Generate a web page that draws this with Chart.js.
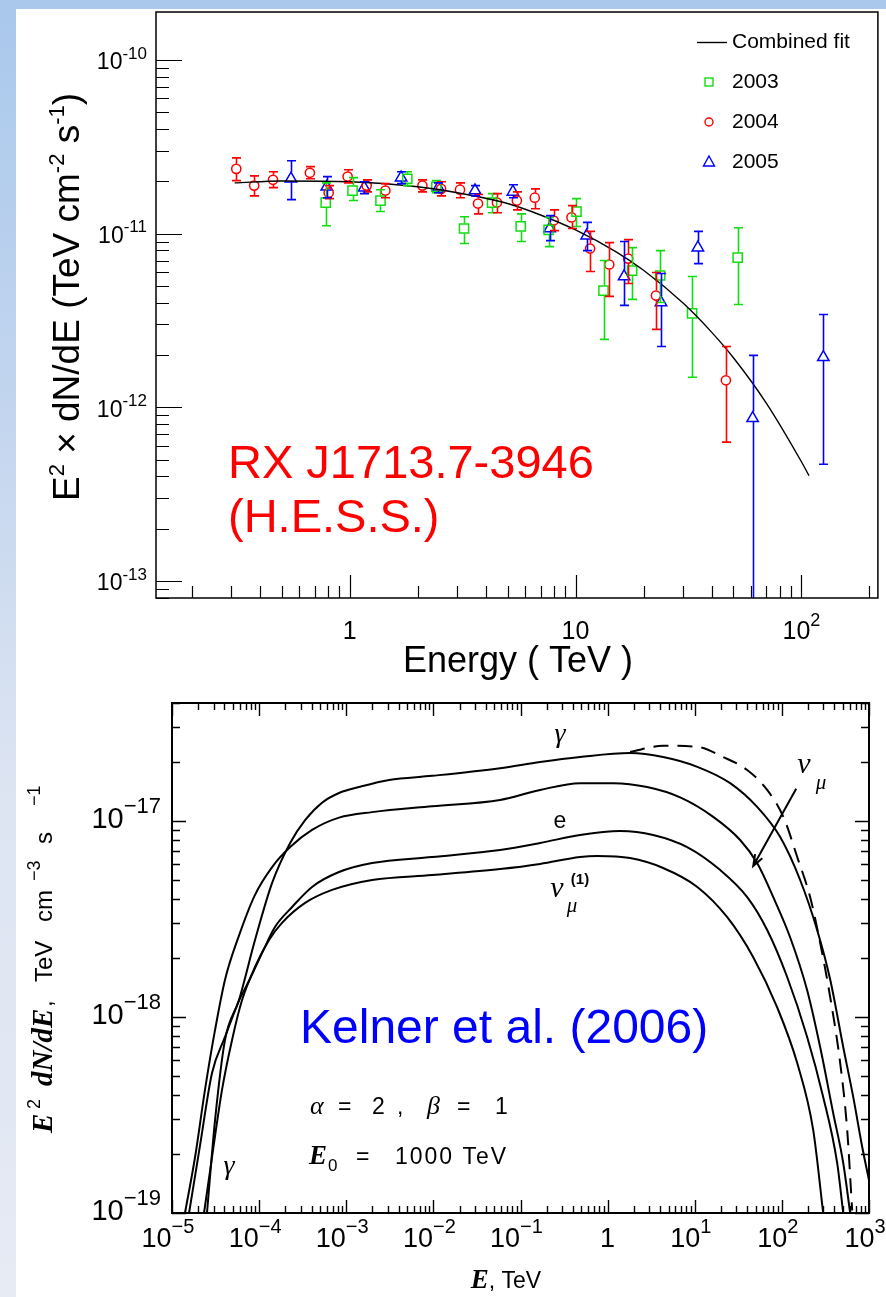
<!DOCTYPE html>
<html>
<head>
<meta charset="utf-8">
<title>RX J1713.7-3946 / Kelner et al. (2006)</title>
<script src="https://cdn.jsdelivr.net/npm/chart.js@4.4.1/dist/chart.umd.min.js"></script>
<style>
  html, body { margin: 0; padding: 0; background: #fff; }
  body { position: relative; width: 886px; height: 1297px; overflow: hidden; }
  #bandTop { position: absolute; left: 0; top: 0; width: 886px; height: 9px; background: #a9c8ec; }
  #bandLeft { position: absolute; left: 0; top: 0; width: 16px; height: 1297px;
    background: linear-gradient(to bottom, #a9c8ec 0%, #c6d7ef 35%, #dce4f2 60%, #e6ebf4 100%); }
  canvas { position: absolute; left: 0; }
  #hess { top: 0; }
  #kelner { top: 690px; }
</style>
</head>
<body>
<div id="bandTop"></div>
<div id="bandLeft"></div>
<canvas id="hess" width="886" height="690"></canvas>
<canvas id="kelner" width="886" height="607"></canvas>
<script>
const SANS = '"Liberation Sans", Arial, sans-serif';
const SERIF = '"Liberation Serif", "DejaVu Serif", serif';

// ---------- top panel: H.E.S.S. data, E in TeV, E^2 dN/dE in TeV cm^-2 s^-1 ----------
const fitE = [0.31, 0.5, 1, 2, 3, 5, 7, 10, 15, 20, 30, 40, 50, 70, 100, 108];
const fitF = [1.96e-11, 2.01e-11, 1.99e-11, 1.86e-11, 1.72e-11, 1.49e-11, 1.28e-11, 1.05e-11,
  7.9e-12, 6.15e-12, 3.97e-12, 2.71e-12, 1.93e-12, 1.055e-12, 4.86e-13, 4.04e-13];

const e2003 = [0.784, 1.03, 1.37, 1.80, 2.42, 3.21, 4.27, 5.72, 7.60, 10.1, 13.3, 17.8, 23.7, 32.8, 52.2];
const f2003 = [1.51e-11, 1.77e-11, 1.55e-11, 2.07e-11, 1.86e-11, 1.07e-11, 1.51e-11, 1.10e-11, 1.05e-11,
  1.34e-11, 4.70e-12, 6.13e-12, 5.74e-12, 3.47e-12, 7.28e-12];
const hi2003 = [1.96e-11, 2.10e-11, 1.79e-11, 2.27e-11, 2.02e-11, 1.25e-11, 1.70e-11, 1.30e-11, 1.24e-11,
  1.59e-11, 7.0e-12, 8.31e-12, 7.98e-12, 5.66e-12, 1.08e-11];
const lo2003 = [1.11e-11, 1.55e-11, 1.34e-11, 1.89e-11, 1.72e-11, 8.77e-12, 1.32e-11, 9.0e-12, 8.42e-12,
  1.10e-11, 2.46e-12, 4.18e-12, 4.01e-12, 1.49e-12, 3.91e-12];

const e2004 = [0.315, 0.378, 0.458, 0.667, 0.808, 0.98, 1.19, 1.44, 2.10, 2.54, 3.08, 3.70, 4.49, 5.50,
  6.60, 8.00, 9.60, 11.6, 14.1, 17.1, 22.7, 46.3];
const f2004 = [2.36e-11, 1.89e-11, 2.04e-11, 2.24e-11, 1.72e-11, 2.13e-11, 1.89e-11, 1.77e-11, 1.89e-11,
  1.81e-11, 1.79e-11, 1.49e-11, 1.51e-11, 1.55e-11, 1.61e-11, 1.19e-11, 1.24e-11, 8.2e-12, 6.64e-12,
  7.18e-12, 4.40e-12, 1.43e-12];
const hi2004 = [2.73e-11, 2.15e-11, 2.27e-11, 2.43e-11, 1.89e-11, 2.33e-11, 2.04e-11, 1.94e-11, 2.04e-11,
  1.99e-11, 1.96e-11, 1.68e-11, 1.70e-11, 1.74e-11, 1.81e-11, 1.37e-11, 1.45e-11, 1.03e-11, 8.88e-12,
  9.24e-12, 5.97e-12, 2.24e-12];
const lo2004 = [2.02e-11, 1.65e-11, 1.84e-11, 2.07e-11, 1.59e-11, 1.96e-11, 1.74e-11, 1.61e-11, 1.74e-11,
  1.65e-11, 1.61e-11, 1.30e-11, 1.32e-11, 1.37e-11, 1.39e-11, 1.04e-11, 1.07e-11, 6.05e-12, 4.35e-12,
  5.16e-12, 2.81e-12, 6.3e-13];

const e2005 = [0.550, 0.792, 1.16, 1.69, 2.47, 3.59, 5.28, 7.68, 11.2, 16.4, 23.9, 34.8, 60.8, 125];
const f2005 = [2.07e-11, 1.86e-11, 1.84e-11, 2.10e-11, 1.84e-11, 1.77e-11, 1.74e-11, 1.07e-11, 9.74e-12,
  5.66e-12, 4.01e-12, 8.31e-12, 8.65e-13, 1.94e-12];
const hi2005 = [2.63e-11, 2.13e-11, 1.99e-11, 2.27e-11, 1.96e-11, 1.89e-11, 1.91e-11, 1.27e-11, 1.16e-11,
  9.0e-12, 5.89e-12, 1.03e-11, 1.99e-12, 3.42e-12];
const lo2005 = [1.57e-11, 1.61e-11, 1.70e-11, 1.94e-11, 1.72e-11, 1.65e-11, 1.61e-11, 9.11e-12, 7.98e-12,
  3.86e-12, 2.24e-12, 6.72e-12, 3.0e-14, 4.7e-13];

const hessXTicks = [[1, '1', ''], [10, '10', ''], [100, '10', '2']];
const hessYTicks = [[1e-10, '10', '-10'], [1e-11, '10', '-11'], [1e-12, '10', '-12'], [1e-13, '10', '-13']];

// ---------- bottom panel: Kelner et al. spectra, E in TeV ----------
const gamE = [2.52e-5, 3.12e-5, 4.06e-5, 5.87e-5, 8.97e-5, 1.41e-4, 2.27e-4, 3.37e-4, 5.27e-4, 8.26e-4,
  1.40e-3, 3.10e-3, 9.66e-3, 0.0583, 0.168, 0.483, 1.81, 4.33, 10.7, 25.5, 52.0, 95.7, 162, 254, 359,
  506, 659, 836, 1000];
const gamF = [1.0e-19, 2.98e-19, 7.64e-19, 1.22e-18, 2.47e-18, 4.83e-18, 7.72e-18, 1.01e-17, 1.24e-17,
  1.39e-17, 1.49e-17, 1.62e-17, 1.70e-17, 1.86e-17, 2.0e-17, 2.12e-17, 2.22e-17, 2.12e-17, 1.89e-17,
  1.56e-17, 1.18e-17, 8.28e-18, 5.0e-18, 2.78e-18, 1.55e-18, 7.03e-19, 3.91e-19, 2.17e-19, 1.47e-19];

const numuE = [1.41e-5, 1.84e-5, 2.39e-5, 3.12e-5, 4.06e-5, 5.87e-5, 8.97e-5, 1.41e-4, 2.27e-4, 4.05e-4,
  8.26e-4, 1.98e-3, 9.66e-3, 0.0583, 0.168, 0.483, 1.16, 2.84, 6.80, 16.3, 33.2, 52.0, 79.4, 124, 195,
  275, 388, 506, 608];
const numuF = [1.0e-19, 1.93e-19, 4.25e-19, 8.59e-19, 1.55e-18, 2.60e-18, 4.20e-18, 5.82e-18, 7.36e-18,
  9.0e-18, 1.04e-17, 1.11e-17, 1.19e-17, 1.28e-17, 1.44e-17, 1.56e-17, 1.56e-17, 1.49e-17, 1.32e-17,
  1.05e-17, 8.0e-18, 6.1e-18, 4.10e-18, 2.56e-18, 1.37e-18, 7.03e-19, 3.24e-19, 1.80e-19, 1.0e-19];

const eleE = [1.57e-5, 2.10e-5, 2.88e-5, 4.06e-5, 5.87e-5, 7.66e-5, 1.08e-4, 1.52e-4, 2.39e-4, 4.05e-4,
  8.26e-4, 1.98e-3, 9.66e-3, 0.0583, 0.168, 0.483, 1.39, 3.33, 8.18, 19.6, 40.0, 67.8, 115, 195, 298,
  431, 506];
const eleF = [1.0e-19, 2.22e-19, 5.18e-19, 7.91e-19, 1.21e-18, 1.53e-18, 2.12e-18, 2.88e-18, 3.64e-18,
  4.61e-18, 5.49e-18, 6.10e-18, 6.55e-18, 7.11e-18, 7.72e-18, 8.49e-18, 8.89e-18, 8.49e-18, 7.36e-18,
  5.62e-18, 4.09e-18, 2.78e-18, 1.60e-18, 7.91e-19, 3.91e-19, 1.80e-19, 1.0e-19];

const numu1E = [2.33e-5, 2.88e-5, 3.75e-5, 4.89e-5, 6.37e-5, 8.97e-5, 1.30e-4, 1.83e-4, 3.37e-4, 6.87e-4,
  1.98e-3, 9.66e-3, 0.0583, 0.168, 0.483, 0.757, 1.81, 4.33, 10.7, 23.6, 46.9, 88.3, 150, 229, 298];
const numu1F = [1.0e-19, 1.93e-19, 4.25e-19, 7.64e-19, 1.22e-18, 1.80e-18, 2.47e-18, 3.02e-18, 3.82e-18,
  4.45e-18, 5.00e-18, 5.30e-18, 5.69e-18, 6.04e-18, 6.55e-18, 6.63e-18, 6.47e-18, 5.76e-18, 4.61e-18,
  3.23e-18, 2.02e-18, 1.12e-18, 5.82e-19, 2.65e-19, 1.0e-19];

const dashE = [1.81, 4.33, 10.7, 21.2, 40.0, 67.8, 104, 150, 211, 275, 359, 467, 562, 641];
const dashF = [2.25e-17, 2.42e-17, 2.39e-17, 2.12e-17, 1.82e-17, 1.44e-17, 1.05e-17, 6.55e-18, 4.09e-18,
  2.39e-18, 1.26e-18, 5.82e-19, 2.65e-19, 1.03e-19];

// arrow from the nu_mu label to its curve (data coordinates)
const arrowFrom = [146, 1.46e-17];
const arrowTo = [46.9, 5.89e-18];

const kelXTicks = [[1e-5, '10', '\u22125'], [1e-4, '10', '\u22124'], [1e-3, '10', '\u22123'], [1e-2, '10', '\u22122'],
  [1e-1, '10', '\u22121'], [1, '1', ''], [10, '10', '1'], [100, '10', '2'], [1000, '10', '3']];
const kelYTicks = [[1e-17, '10', '\u221217'], [1e-18, '10', '\u221218'], [1e-19, '10', '\u221219']];

function pts(xs, ys) {
  return xs.map(function(x, i) { return { x: x, y: ys[i] }; });
}

// draws a run of [text, font, raise] pieces in one line
function richText(ctx, parts, x, y, align) {
  let w = 0;
  parts.forEach(function(p) { ctx.font = p[1]; p.w = ctx.measureText(p[0]).width; w += p.w; });
  let cx = align === 'right' ? x - w : align === 'center' ? x - w / 2 : x;
  ctx.textAlign = 'left';
  parts.forEach(function(p) {
    ctx.font = p[1];
    ctx.fillText(p[0], cx, y - (p[2] || 0));
    cx += p.w;
  });
}

// inward log ticks, major at decades
function logTicks(ctx, scale, a, side, major, minor) {
  const lo = Math.floor(Math.log10(scale.min)), hi = Math.ceil(Math.log10(scale.max));
  ctx.beginPath();
  for (let d = lo; d <= hi; d++) {
    for (let m = 1; m <= 9; m++) {
      const v = m * Math.pow(10, d);
      if (v < scale.min * 0.999 || v > scale.max * 1.001) continue;
      const p = Math.round(scale.getPixelForValue(v)) + 0.5;
      const len = m === 1 ? major : minor;
      if (side === 'bottom') { ctx.moveTo(p, a.bottom); ctx.lineTo(p, a.bottom - len); }
      if (side === 'top') { ctx.moveTo(p, a.top); ctx.lineTo(p, a.top + len); }
      if (side === 'left') { ctx.moveTo(a.left, p); ctx.lineTo(a.left + len, p); }
      if (side === 'right') { ctx.moveTo(a.right, p); ctx.lineTo(a.right - len, p); }
    }
  }
  ctx.stroke();
}

const errorBars = {
  id: 'errorBars',
  afterDatasetsDraw(chart) {
    const { ctx, chartArea: a, scales: { x, y } } = chart;
    ctx.save();
    ctx.beginPath();
    ctx.rect(a.left, a.top, a.right - a.left, a.bottom - a.top);
    ctx.clip();
    chart.data.datasets.forEach(function(ds) {
      if (!ds.errHi) return;
      ctx.strokeStyle = ds.borderColor;
      ctx.lineWidth = 1.6;
      ds.data.forEach(function(p, i) {
        const px = Math.round(x.getPixelForValue(p.x)) + 0.5;
        const py = y.getPixelForValue(p.y);
        const ph = y.getPixelForValue(ds.errHi[i]);
        const pl = y.getPixelForValue(ds.errLo[i]);
        ctx.beginPath();
        if (ph < py - ds.gapTop) { ctx.moveTo(px, ph); ctx.lineTo(px, py - ds.gapTop); }
        if (pl > py + ds.gapBottom) { ctx.moveTo(px, py + ds.gapBottom); ctx.lineTo(px, pl); }
        ctx.moveTo(px - 4.5, ph); ctx.lineTo(px + 4.5, ph);
        ctx.moveTo(px - 4.5, pl); ctx.lineTo(px + 4.5, pl);
        ctx.stroke();
      });
    });
    ctx.restore();
  }
};

const hessDecor = {
  id: 'hessDecor',
  afterDraw(chart) {
    const { ctx, chartArea: a, scales: { x, y } } = chart;
    ctx.save();
    ctx.strokeStyle = '#000';
    ctx.lineWidth = 1.5;
    ctx.strokeRect(a.left, a.top, a.right - a.left, a.bottom - a.top);
    ctx.lineWidth = 1.2;
    logTicks(ctx, x, a, 'bottom', 23, 12);
    logTicks(ctx, y, a, 'left', 26, 13);

    ctx.fillStyle = '#000';
    ctx.textBaseline = 'middle';
    hessYTicks.forEach(function(t) {
      richText(ctx, [[t[1], '23px ' + SANS, 0], [t[2], '17px ' + SANS, 9]], a.left - 9, y.getPixelForValue(t[0]) + 3, 'right');
    });
    hessXTicks.forEach(function(t) {
      richText(ctx, [[t[1], '25px ' + SANS, 0], [t[2], '18px ' + SANS, 11]], x.getPixelForValue(t[0]), a.bottom + 34, 'center');
    });

    // axis titles
    ctx.textBaseline = 'alphabetic';
    richText(ctx, [['Energy ( TeV )', '36px ' + SANS, 0]], 518, 672, 'center');
    ctx.save();
    ctx.translate(79, 297);
    ctx.rotate(-Math.PI / 2);
    richText(ctx, [['E', '37px ' + SANS, 0], ['2', '22px ' + SANS, 15], [' \u00d7 dN/dE (TeV cm', '37px ' + SANS, 0],
      ['-2', '22px ' + SANS, 15], [' s', '37px ' + SANS, 0], ['-1', '22px ' + SANS, 15], [')', '37px ' + SANS, 0]], 0, 0, 'center');
    ctx.restore();

    // source name
    ctx.fillStyle = '#ff0000';
    ctx.font = '47px ' + SANS;
    ctx.textAlign = 'left';
    ctx.fillText('RX J1713.7-3946', 228, 478);
    ctx.fillText('(H.E.S.S.)', 228, 532);

    // legend
    ctx.fillStyle = '#000';
    ctx.textBaseline = 'middle';
    ctx.font = '21px ' + SANS;
    ctx.fillText('Combined fit', 732, 42);
    ctx.fillText('2003', 732, 82);
    ctx.fillText('2004', 732, 122);
    ctx.fillText('2005', 732, 162);
    ctx.lineWidth = 1.4;
    ctx.beginPath(); ctx.moveTo(697, 42.5); ctx.lineTo(727, 42.5); ctx.stroke();
    ctx.strokeStyle = '#11dd11';
    ctx.strokeRect(705, 78, 8, 8);
    ctx.strokeStyle = '#ff0000';
    ctx.beginPath(); ctx.arc(709, 122, 4, 0, 2 * Math.PI); ctx.stroke();
    ctx.strokeStyle = '#0000ff';
    ctx.beginPath(); ctx.moveTo(709, 156); ctx.lineTo(714.5, 166); ctx.lineTo(703.5, 166); ctx.closePath(); ctx.stroke();
    ctx.restore();
  }
};

new Chart(document.getElementById('hess'), {
  type: 'scatter',
  data: {
    datasets: [
      { label: 'Combined fit', data: pts(fitE, fitF), showLine: true, pointRadius: 0, borderColor: '#000',
        borderWidth: 1.4, cubicInterpolationMode: 'monotone', fill: false },
      { label: '2003', data: pts(e2003, f2003), errHi: hi2003, errLo: lo2003, gapTop: 5, gapBottom: 5,
        showLine: false, pointStyle: 'rect', pointRadius: 6.5, borderColor: '#11dd11', backgroundColor: 'rgba(0,0,0,0)',
        pointBorderWidth: 1.5 },
      { label: '2004', data: pts(e2004, f2004), errHi: hi2004, errLo: lo2004, gapTop: 5, gapBottom: 5,
        showLine: false, pointStyle: 'circle', pointRadius: 4.6, borderColor: '#ff0000', backgroundColor: 'rgba(0,0,0,0)',
        pointBorderWidth: 1.5 },
      { label: '2005', data: pts(e2005, f2005), errHi: hi2005, errLo: lo2005, gapTop: 6.5, gapBottom: 3.3,
        showLine: false, pointStyle: 'triangle', pointRadius: 6.6, borderColor: '#0000ff', backgroundColor: 'rgba(0,0,0,0)',
        pointBorderWidth: 1.5 }
    ]
  },
  options: {
    responsive: false,
    animation: false,
    devicePixelRatio: 1,
    events: [],
    layout: { padding: { left: 156, right: 6, top: 12, bottom: 92 } },
    plugins: { legend: { display: false }, tooltip: { enabled: false } },
    scales: {
      x: { type: 'logarithmic', min: 0.139, max: 218, display: false },
      y: { type: 'logarithmic', min: 7.98e-14, max: 1.888e-10, display: false }
    }
  },
  plugins: [errorBars, hessDecor]
});

const kelDecor = {
  id: 'kelDecor',
  afterDraw(chart) {
    const { ctx, chartArea: a, scales: { x, y } } = chart;
    const off = 690;
    ctx.save();
    ctx.strokeStyle = '#000';
    ctx.lineWidth = 2;
    ctx.strokeRect(a.left, a.top, a.right - a.left, a.bottom - a.top);
    ctx.lineWidth = 1.4;
    logTicks(ctx, x, a, 'bottom', 13, 7);
    logTicks(ctx, x, a, 'top', 13, 7);
    logTicks(ctx, y, a, 'left', 14, 8);
    logTicks(ctx, y, a, 'right', 14, 8);

    ctx.fillStyle = '#000';
    ctx.textBaseline = 'middle';
    kelYTicks.forEach(function(t) {
      richText(ctx, [[t[1], '29px ' + SANS, 0], [t[2], '22px ' + SANS, 13]], a.left - 11, y.getPixelForValue(t[0]) - 1, 'right');
    });
    kelXTicks.forEach(function(t) {
      const shift = t[2] ? -4 : 0;
      richText(ctx, [[t[1], '27px ' + SANS, 0], [t[2], '20px ' + SANS, 13]], x.getPixelForValue(t[0]) + shift, a.bottom + 27, 'center');
    });

    // axis titles
    ctx.textBaseline = 'alphabetic';
    richText(ctx, [['E', 'bold italic 27px ' + SERIF, 0], [', TeV', '23px ' + SANS, 0]], 506, 1288 - off, 'center');
    ctx.save();
    ctx.translate(52, 1133 - off);
    ctx.rotate(-Math.PI / 2);
    const yt = [['E', 'bold italic 29px ' + SERIF, 0, 0], ['2', '18px ' + SANS, 24, 12], ['dN/dE', 'bold italic 29px ' + SERIF, 47, 0],
      [',', '24px ' + SANS, 126, 0], ['TeV', '24px ' + SANS, 151, 0], ['cm', '24px ' + SANS, 211, 0],
      ['\u22123', '18px ' + SANS, 252, 12], ['s', '24px ' + SANS, 289, 0], ['\u22121', '18px ' + SANS, 327, 12]];
    yt.forEach(function(p) { ctx.font = p[1]; ctx.fillText(p[0], p[2], -p[3]); });
    ctx.restore();

    // curve labels
    ctx.textAlign = 'center';
    ctx.textBaseline = 'middle';
    ctx.font = 'italic 28px ' + SERIF;
    ctx.fillText('\u03b3', 560, 735 - off);
    ctx.fillText('\u03b3', 229, 1167 - off);
    ctx.font = '23px ' + SANS;
    ctx.fillText('e', 560, 822 - off);
    ctx.font = 'italic 30px ' + SERIF;
    ctx.fillText('\u03bd', 557, 889 - off);
    ctx.fillText('\u03bd', 804, 765 - off);
    ctx.font = 'italic 21px ' + SERIF;
    ctx.fillText('\u03bc', 572, 906 - off);
    ctx.fillText('\u03bc', 821, 783 - off);
    ctx.font = 'bold 15px ' + SANS;
    ctx.fillText('(1)', 580, 880 - off);

    // arrow
    const x0 = x.getPixelForValue(arrowFrom[0]), y0 = y.getPixelForValue(arrowFrom[1]);
    const x1 = x.getPixelForValue(arrowTo[0]), y1 = y.getPixelForValue(arrowTo[1]);
    const ang = Math.atan2(y1 - y0, x1 - x0);
    ctx.lineWidth = 2;
    ctx.beginPath();
    ctx.moveTo(x0, y0); ctx.lineTo(x1, y1);
    ctx.moveTo(x1 - 12 * Math.cos(ang - 0.35), y1 - 12 * Math.sin(ang - 0.35));
    ctx.lineTo(x1, y1);
    ctx.lineTo(x1 - 12 * Math.cos(ang + 0.35), y1 - 12 * Math.sin(ang + 0.35));
    ctx.stroke();

    // Kelner label and parameters
    ctx.textAlign = 'left';
    ctx.textBaseline = 'alphabetic';
    ctx.fillStyle = '#0000ff';
    ctx.font = '48px ' + SANS;
    ctx.fillText('Kelner et al. (2006)', 300, 1043 - off);
    ctx.fillStyle = '#000';
    ctx.font = 'italic 26px ' + SERIF;
    ctx.fillText('\u03b1', 310, 1114 - off);
    ctx.fillText('\u03b2', 427, 1114 - off);
    ctx.font = '23px ' + SANS;
    ctx.fillText('=', 338, 1114 - off);
    ctx.fillText('2', 372, 1114 - off);
    ctx.fillText(',', 397, 1114 - off);
    ctx.fillText('=', 457, 1114 - off);
    ctx.fillText('1', 495, 1114 - off);
    ctx.font = 'bold italic 27px ' + SERIF;
    ctx.fillText('E', 309, 1164 - off);
    ctx.font = '17px ' + SANS;
    ctx.fillText('0', 328, 1171 - off);
    ctx.font = '23px ' + SANS;
    ctx.fillText('=', 356, 1164 - off);
    ctx.letterSpacing = '2px';
    ctx.fillText('1000 TeV', 395, 1164 - off);
    ctx.letterSpacing = '0px';
    ctx.restore();
  }
};

function curve(xs, ys, dash) {
  return { data: pts(xs, ys), showLine: true, pointRadius: 0, borderColor: '#000', borderWidth: 2,
    borderDash: dash || [], cubicInterpolationMode: 'monotone', fill: false };
}

new Chart(document.getElementById('kelner'), {
  type: 'scatter',
  data: {
    datasets: [
      curve(gamE, gamF),
      curve(numuE, numuF),
      curve(eleE, eleF),
      curve(numu1E, numu1F),
      curve(dashE, dashF, [15, 9])
    ]
  },
  options: {
    responsive: false,
    animation: false,
    devicePixelRatio: 1,
    events: [],
    layout: { padding: { left: 172, right: 17, top: 13, bottom: 84 } },
    plugins: { legend: { display: false }, tooltip: { enabled: false } },
    scales: {
      x: { type: 'logarithmic', min: 1e-5, max: 1e3, display: false },
      y: { type: 'logarithmic', min: 1e-19, max: 4e-17, display: false }
    }
  },
  plugins: [kelDecor]
});
</script>
</body>
</html>
